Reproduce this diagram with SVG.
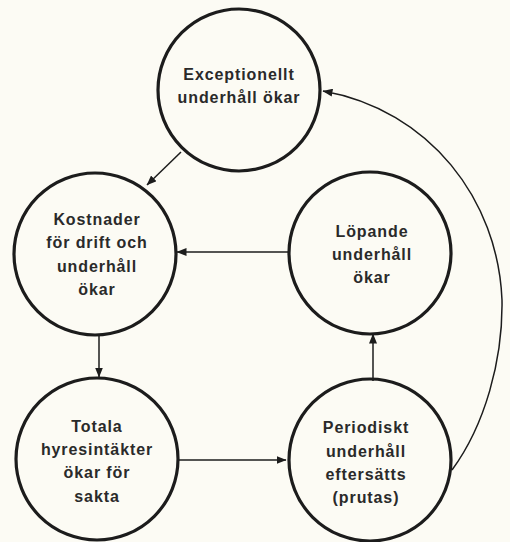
<svg xmlns="http://www.w3.org/2000/svg" width="510" height="542" viewBox="0 0 510 542">
<style>
.node circle{fill:none;stroke:#1c1c1c;stroke-width:3.2}
.node text{font-family:"Liberation Sans",Arial,sans-serif;font-weight:bold;font-size:16px;letter-spacing:0.9px;fill:#2a2a2a;text-anchor:middle}
.conn path{fill:none;stroke:#1c1c1c;stroke-width:1.5}
</style>
<defs>
<marker id="ah" viewBox="0 0 10 8" refX="9.5" refY="4" markerWidth="10" markerHeight="8" markerUnits="userSpaceOnUse" orient="auto">
<path d="M0,0 L10,4 L0,8 Z" fill="#1c1c1c"/>
</marker>
</defs>
<rect width="510" height="542" fill="#fcfbf4"/>
<g id="connectors" class="conn">
<path d="M181,152 L147,185" marker-end="url(#ah)"/>
<path d="M288,252 L177,252" marker-end="url(#ah)"/>
<path d="M99,334 L99,377" marker-end="url(#ah)"/>
<path d="M179,460 L286,460" marker-end="url(#ah)"/>
<path d="M373,381 L373,334" marker-end="url(#ah)"/>
<path d="M452,470 C485,425 503,360 502,300 C498,200 430,110 323,91" marker-end="url(#ah)"/>
</g>
<g id="exceptionellt" class="node">
<circle cx="239" cy="90" r="81"/>
<text x="239" y="80">Exceptionellt</text>
<text x="239" y="103">underhåll ökar</text>
</g>
<g id="kostnader" class="node">
<circle cx="95" cy="254" r="81"/>
<text x="97" y="225">Kostnader</text>
<text x="97" y="248">för drift och</text>
<text x="97" y="272">underhåll</text>
<text x="97" y="295">ökar</text>
</g>
<g id="lopande" class="node">
<circle cx="370" cy="253" r="81"/>
<text x="372" y="237">Löpande</text>
<text x="372" y="260">underhåll</text>
<text x="372" y="283">ökar</text>
</g>
<g id="totala" class="node">
<circle cx="97" cy="459" r="81"/>
<text x="97" y="432">Totala</text>
<text x="97" y="455">hyresintäkter</text>
<text x="97" y="478">ökar för</text>
<text x="97" y="502">sakta</text>
</g>
<g id="periodiskt" class="node">
<circle cx="370" cy="460" r="81"/>
<text x="366" y="433">Periodiskt</text>
<text x="366" y="457">underhåll</text>
<text x="366" y="480">eftersätts</text>
<text x="366" y="503">(prutas)</text>
</g>
</svg>
